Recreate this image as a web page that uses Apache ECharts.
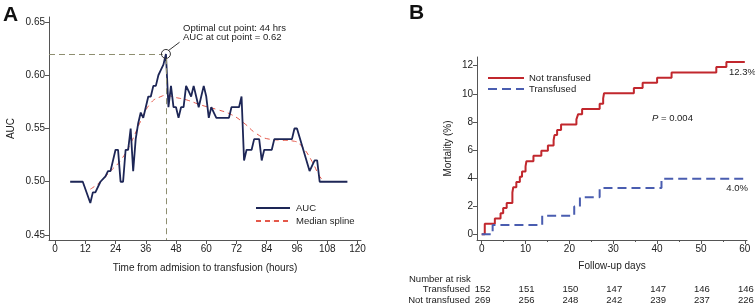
<!DOCTYPE html>
<html>
<head>
<meta charset="utf-8">
<script src="https://cdn.jsdelivr.net/npm/echarts@6/dist/echarts.min.js"></script>
<style>
  html, body { margin: 0; padding: 0; background: #fff; }
  #chart { width: 755px; height: 307px; }
</style>
</head>
<body>
<div id="chart"></div>
<script>
  // panel A: AUC by hour cut point
  const aucHours = [6, 11, 14, 15, 16, 18, 20, 21, 22, 24, 25, 26, 27, 28, 29, 30, 31, 32, 33, 34, 35, 36, 37, 38, 39, 40, 41, 42, 43, 44,
    45, 46, 47, 48, 49, 50, 51, 52, 53, 54, 55, 56, 57, 58, 59, 60, 61, 62, 63, 64, 69, 70, 73, 74, 75, 76, 78, 79, 80, 81, 82, 83, 86, 87,
    94, 95, 96, 101, 103, 104, 105, 116];
  const aucValues = [0.50, 0.50, 0.48, 0.49, 0.49, 0.50, 0.505, 0.51, 0.51, 0.53, 0.53, 0.50, 0.50, 0.53, 0.53, 0.55, 0.51, 0.54, 0.555, 0.565, 0.56, 0.57, 0.58, 0.58, 0.59, 0.59, 0.60, 0.605, 0.61, 0.62,
    0.57, 0.59, 0.57, 0.57, 0.56, 0.57, 0.57, 0.59, 0.585, 0.58, 0.59, 0.58, 0.57, 0.58, 0.59, 0.58, 0.56, 0.57, 0.565, 0.56, 0.56, 0.57, 0.57, 0.58, 0.52, 0.53, 0.53, 0.54, 0.54, 0.54, 0.52, 0.53, 0.53, 0.54,
    0.54, 0.55, 0.55, 0.51, 0.52, 0.52, 0.50, 0.50];
  const splineHours = [14, 18, 22, 26, 30, 34, 38, 42, 44, 48, 52, 58, 64, 70, 75, 80, 85, 90, 95, 98, 102, 105, 107];
  const splineValues = [0.493, 0.50, 0.51, 0.52, 0.536, 0.557, 0.574, 0.580, 0.581, 0.579, 0.577, 0.572, 0.568, 0.563, 0.555, 0.545, 0.540, 0.539, 0.538, 0.533, 0.519, 0.505, 0.50];
  const cutHour = 44;
  const cutAuc = 0.62;
  const hourTicks = [0, 12, 24, 36, 48, 60, 72, 84, 96, 108, 120];
  const aucTicks = [0.45, 0.50, 0.55, 0.60, 0.65];

  // panel B: Kaplan-Meier style mortality
  const notTransDays = [0, 0.7, 3.0, 4.3, 4.9, 5.7, 7.0, 7.2, 7.9, 8.7, 9.2, 10.0, 10.2, 11.8, 13.6, 15.1, 16.4, 16.6, 17.2, 18.1,
    21.6, 22.0, 22.9, 26.9, 27.7, 27.9, 34.7, 36.7, 40.0, 43.3, 53.5, 55.8, 60];
  const notTransMort = [0, 0.74, 1.12, 1.49, 1.86, 2.23, 2.97, 3.35, 3.72, 4.09, 4.46, 4.83, 5.2, 5.58, 5.95, 6.32, 6.69, 7.06, 7.43, 7.81,
    8.18, 8.55, 8.92, 9.29, 9.67, 10.04, 10.41, 10.78, 11.15, 11.52, 11.9, 12.27, 12.27];
  const transDays = [0, 2.5, 13.8, 21.1, 22.4, 26.9, 41.0, 60];
  const transMort = [0, 0.66, 1.32, 1.97, 2.63, 3.29, 3.95, 3.95];
  const dayTicks = [0, 10, 20, 30, 40, 50, 60];
  const dayMinorTicks = [5, 15, 25, 35, 45, 55];
  const mortTicks = [0, 2, 4, 6, 8, 10, 12];
  const riskDays = [0, 10, 20, 30, 40, 50, 60];
  const riskTransfused = [152, 151, 150, 147, 147, 146, 146];
  const riskNotTransfused = [269, 256, 248, 242, 239, 237, 226];

  const zip = (xs, ys) => xs.map((x, i) => [x, ys[i]]);
  const font = 'Liberation Sans, Arial, sans-serif';
  const txt = '#222';

  const chart = echarts.init(document.getElementById('chart'));

  const axisCommon = {
    type: 'value',
    splitLine: { show: false },
    axisLine: { show: true, onZero: false, lineStyle: { color: '#555', width: 1 } },
    axisTick: { show: true, length: 4, lineStyle: { color: '#555' } },
    axisLabel: { color: txt, fontSize: 10, fontFamily: font, margin: 4 },
    nameLocation: 'middle',
    nameTextStyle: { color: txt, fontSize: 10, fontFamily: font }
  };

  const option = {
    animation: false,
    textStyle: { fontFamily: font },
    grid: [
      { left: 49, right: 394, top: 17, bottom: 67 },
      { left: 477, right: 8, top: 57, bottom: 67 }
    ],
    xAxis: [
      Object.assign({}, axisCommon, {
        gridIndex: 0, min: -2.4, max: 121.4, position: 'bottom',
        name: 'Time from admision to transfusion (hours)', nameGap: 23,
        axisTick: Object.assign({}, axisCommon.axisTick, { customValues: hourTicks }),
        axisLabel: Object.assign({}, axisCommon.axisLabel, { customValues: hourTicks })
      }),
      Object.assign({}, axisCommon, {
        gridIndex: 1, min: -1.07, max: 60.5, position: 'bottom',
        name: 'Follow-up days', nameGap: 21,
        axisTick: Object.assign({}, axisCommon.axisTick, { customValues: dayTicks }),
        axisLabel: Object.assign({}, axisCommon.axisLabel, { customValues: dayTicks })
      }),
      Object.assign({}, axisCommon, {
        gridIndex: 1, min: -1.07, max: 60.5, position: 'bottom', offset: 0,
        axisLine: { show: false, onZero: false },
        axisTick: { show: true, length: 2, customValues: dayMinorTicks, lineStyle: { color: '#555' } },
        axisLabel: { show: false }
      })
    ],
    yAxis: [
      Object.assign({}, axisCommon, {
        gridIndex: 0, min: 0.4453, max: 0.6547,
        name: 'AUC', nameGap: 33,
        axisTick: Object.assign({}, axisCommon.axisTick, { customValues: aucTicks }),
        axisLabel: Object.assign({}, axisCommon.axisLabel, {
          customValues: aucTicks, formatter: v => v.toFixed(2)
        })
      }),
      Object.assign({}, axisCommon, {
        gridIndex: 1, min: -0.41, max: 12.62,
        name: 'Mortality (%)', nameGap: 24,
        axisTick: Object.assign({}, axisCommon.axisTick, { customValues: mortTicks }),
        axisLabel: Object.assign({}, axisCommon.axisLabel, { customValues: mortTicks })
      })
    ],
    legend: [
      {
        left: 250, top: 198, orient: 'vertical', itemWidth: 34, itemHeight: 1, itemGap: 3,
        textStyle: { color: txt, fontSize: 9.5, fontFamily: font, padding: [0, 0, 0, 1] },
        data: ['AUC', 'Median spline']
      },
      {
        left: 482, top: 68, orient: 'vertical', itemWidth: 36, itemHeight: 1, itemGap: 1,
        textStyle: { color: txt, fontSize: 9.5, fontFamily: font },
        data: ['Not transfused', 'Transfused']
      }
    ],
    series: [
      {
        name: 'AUC', type: 'line', xAxisIndex: 0, yAxisIndex: 0,
        data: zip(aucHours, aucValues), symbol: 'none',
        lineStyle: { color: '#1d2656', width: 1.8 },
        itemStyle: { color: '#1d2656' },
        z: 3,
        markLine: {
          silent: true, symbol: 'none', label: { show: false },
          lineStyle: { color: '#8e8e70', width: 1, type: [6, 4] },
          data: [
            [{ coord: [-2.4, cutAuc] }, { coord: [cutHour - 1.3, cutAuc] }],
            [{ coord: [cutHour, cutAuc - 0.004] }, { coord: [cutHour, 0.4453] }],
            [{ coord: [cutHour + 0.9, cutAuc + 0.003], lineStyle: { type: 'solid', color: '#333' } },
             { coord: [cutHour + 5.4, cutAuc + 0.011] }]
          ]
        },
        markPoint: {
          silent: true, symbol: 'circle', symbolSize: 9,
          itemStyle: { color: 'rgba(255,255,255,0)', borderColor: '#333', borderWidth: 1 },
          label: { show: false },
          data: [{ coord: [cutHour, cutAuc] }]
        }
      },
      {
        name: 'Median spline', type: 'line', xAxisIndex: 0, yAxisIndex: 0,
        data: zip(splineHours, splineValues), symbol: 'none', smooth: true,
        lineStyle: { color: '#e4584a', width: 1, type: [5, 4] },
        itemStyle: { color: '#e4584a' },
        z: 2
      },
      {
        name: 'Not transfused', type: 'line', xAxisIndex: 1, yAxisIndex: 1,
        data: zip(notTransDays, notTransMort), step: 'end', symbol: 'none',
        lineStyle: { color: '#c1272d', width: 2 },
        itemStyle: { color: '#c1272d' }
      },
      {
        name: 'Transfused', type: 'line', xAxisIndex: 1, yAxisIndex: 1,
        data: zip(transDays, transMort), step: 'end', symbol: 'none',
        lineStyle: { color: '#4a5db0', width: 2, type: [9, 5] },
        itemStyle: { color: '#4a5db0' }
      }
    ]
  };

  chart.setOption(option);

  // texts and the number-at-risk table, placed through the follow-up axis
  const label = (x, y, text, extra) => ({
    type: 'text', x: x, y: y, silent: true,
    style: Object.assign({ text: text, fill: txt, font: '9.5px ' + font, verticalAlign: 'middle' }, extra || {})
  });

  const graphics = [
    label(3, 15, 'A', { font: 'bold 21px ' + font, fill: '#111' }),
    label(409, 13, 'B', { font: 'bold 21px ' + font, fill: '#111' }),
    label(183, 28, 'Optimal cut point: 44 hrs'),
    label(183, 37.5, 'AUC at cut point = 0.62'),
    label(729, 72, '12.3%'),
    label(748, 188, '4.0%', { align: 'right' }),
    {
      type: 'text', x: 652, y: 118, silent: true,
      style: {
        text: '{i|P} = 0.004', verticalAlign: 'middle', fill: txt, font: '9.5px ' + font,
        rich: { i: { fontStyle: 'italic', fontSize: 9.5, fontFamily: font, fill: txt } }
      }
    },
    label(409, 279, 'Number at risk'),
    label(470, 289, 'Transfused', { align: 'right' }),
    label(470, 300, 'Not transfused', { align: 'right' })
  ];

  riskDays.forEach((d, i) => {
    const px = chart.convertToPixel({ xAxisIndex: 1 }, d);
    graphics.push(label(px + 1, 289, String(riskTransfused[i]), { align: 'center' }));
    graphics.push(label(px + 1, 300, String(riskNotTransfused[i]), { align: 'center' }));
  });

  chart.setOption({ graphic: graphics });
</script>
</body>
</html>
